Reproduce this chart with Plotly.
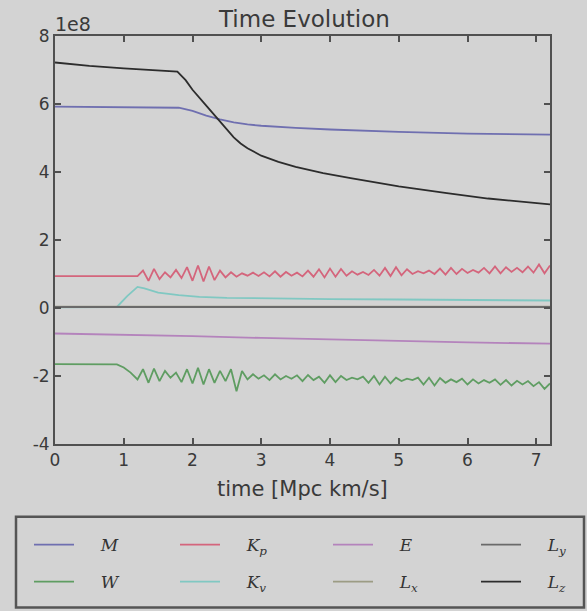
import plotly.graph_objects as go

# ---------------- data (units of 1e8) ----------------
t_osc = [1.20, 1.28, 1.36, 1.44, 1.52, 1.60, 1.68, 1.76, 1.84, 1.92,
         2.00, 2.08, 2.16, 2.24, 2.32, 2.40, 2.48, 2.56, 2.64, 2.72,
         2.80, 2.88, 2.96, 3.04, 3.12, 3.20, 3.28, 3.36, 3.44, 3.52,
         3.60, 3.68, 3.76, 3.84, 3.92, 4.00, 4.08, 4.16, 4.24, 4.32,
         4.40, 4.48, 4.56, 4.64, 4.72, 4.80, 4.88, 4.96, 5.04, 5.12,
         5.20, 5.28, 5.36, 5.44, 5.52, 5.60, 5.68, 5.76, 5.84, 5.92,
         6.00, 6.08, 6.16, 6.24, 6.32, 6.40, 6.48, 6.56, 6.64, 6.72,
         6.80, 6.88, 6.96, 7.04, 7.12, 7.20]

t_M = [0.0, 1.0, 1.8, 2.0, 2.2, 2.4, 2.6, 2.8, 3.0, 3.5, 4.0, 5.0, 6.0, 7.2]
M = [5.92, 5.91, 5.89, 5.80, 5.66, 5.55, 5.46, 5.40, 5.36, 5.30, 5.25, 5.18, 5.13, 5.10]

t_Lz = [0.0, 0.5, 1.0, 1.5, 1.78, 1.9, 2.0, 2.2, 2.4, 2.6, 2.7, 2.8, 3.0, 3.25,
        3.5, 3.9, 4.3, 5.0, 5.7, 6.3, 7.2]
L_z = [7.22, 7.12, 7.05, 6.98, 6.95, 6.70, 6.42, 5.95, 5.50, 5.02, 4.84, 4.70,
       4.48, 4.30, 4.15, 3.97, 3.82, 3.58, 3.38, 3.22, 3.05]

t_Kp = [0.0] + t_osc
K_p = [0.94,
       0.94, 1.10, 0.80, 1.15, 0.85, 1.05, 0.90, 1.12, 0.88, 1.20,
       0.80, 1.25, 0.78, 1.22, 0.82, 1.10, 0.90, 1.05, 0.92, 1.02,
       0.95, 1.04, 0.94, 1.05, 0.93, 1.08, 0.92, 1.06, 0.95, 1.04,
       0.93, 1.10, 0.92, 1.14, 0.90, 1.16, 0.92, 1.15, 0.95, 1.08,
       0.98, 1.06, 0.97, 1.12, 0.95, 1.18, 0.94, 1.20, 0.96, 1.14,
       1.00, 1.08, 1.02, 1.10, 1.00, 1.16, 0.98, 1.18, 1.00, 1.15,
       1.03, 1.12, 1.04, 1.18, 1.02, 1.22, 1.02, 1.20, 1.06, 1.18,
       1.05, 1.22, 1.04, 1.28, 1.02, 1.25]

t_W = [0.0, 0.9, 1.0, 1.1] + t_osc
W = [-1.65, -1.66, -1.75, -1.90,
     -2.10, -1.80, -2.20, -1.78, -2.15, -1.85, -2.05, -1.90, -2.18, -1.80,
     -2.22, -1.76, -2.25, -1.80, -2.20, -1.85, -2.15, -1.80, -2.45, -1.85,
     -2.10, -1.95, -2.08, -1.98, -2.12, -1.95, -2.10, -2.00, -2.08, -1.98,
     -2.15, -1.97, -2.12, -2.02, -2.20, -1.98, -2.18, -2.00, -2.12, -2.05,
     -2.10, -2.02, -2.20, -2.00, -2.25, -2.02, -2.22, -2.05, -2.15, -2.08,
     -2.12, -2.05, -2.25, -2.05, -2.28, -2.06, -2.20, -2.10, -2.18, -2.08,
     -2.25, -2.10, -2.22, -2.12, -2.20, -2.10, -2.26, -2.12, -2.28, -2.14,
     -2.25, -2.15, -2.30, -2.18, -2.38, -2.22]

t_Kv = [0.0, 0.9, 1.05, 1.2, 1.3, 1.5, 1.8, 2.1, 2.5, 3.0, 3.5, 4.0, 5.0, 6.0, 7.2]
K_v = [0.02, 0.03, 0.35, 0.62, 0.58, 0.45, 0.38, 0.33, 0.30, 0.28, 0.27, 0.26, 0.25, 0.24, 0.22]

t_E = [0.0, 1.0, 2.0, 3.0, 4.0, 5.0, 6.0, 7.2]
E = [-0.75, -0.78, -0.83, -0.88, -0.93, -0.97, -1.01, -1.05]

t_L = [0.0, 7.2]
L_x = [0.04, 0.04]
L_y = [0.03, 0.03]

y_ticks = [-4, -2, 0, 2, 4, 6, 8]
x_ticks = [0, 1, 2, 3, 4, 5, 6, 7]

# ---------------- styling ----------------
BG = "#d3d3d3"
AX = "#505050"
TXT = "#3a3a3a"
pad = "\u00a0" * 4

W_PX, H_PX = 587, 611
L, R, T, B = 55, 37, 36, 166
pw, ph = W_PX - L - R, H_PX - T - B


def px(x):
    return (x - L) / pw


def py(y):
    return (H_PX - B - y) / ph


def lab(sym, sub=None):
    s = pad + "<i>" + sym + "</i>"
    if sub:
        s += "<sub><i>" + sub + "</i></sub>"
    return s


col_x = [29, 175, 328, 476]
row_y = [545, 582]

series = [
    # (t, y, name, color, column, row)
    (t_M, M, lab("M"), "#6f6fb0", 0, 0),
    (t_W, W, lab("W"), "#5f9d62", 0, 1),
    (t_Kp, K_p, lab("K", "p"), "#d4657c", 1, 0),
    (t_Kv, K_v, lab("K", "v"), "#80c8c2", 1, 1),
    (t_E, E, lab("E"), "#b483bc", 2, 0),
    (t_L, L_x, lab("L", "x"), "#9c9c84", 2, 1),
    (t_L, L_y, lab("L", "y"), "#6a6a6a", 3, 0),
    (t_Lz, L_z, lab("L", "z"), "#2c2c2c", 3, 1),
]

fig = go.Figure()
legends = {}
for i, (t, y, name, col, c, r) in enumerate(series):
    key = "legend" if i == 0 else "legend%d" % (i + 1)
    fig.add_trace(go.Scatter(x=t, y=y, mode="lines", name=name, legend=key,
                             line=dict(color=col, width=1.8)))
    legends[key] = dict(x=px(col_x[c]), y=py(row_y[r]), xanchor="left",
                        yanchor="middle", orientation="h",
                        bgcolor="rgba(0,0,0,0)", borderwidth=0,
                        font=dict(family="DejaVu Serif", size=17, color="#333"),
                        itemwidth=40)

fig.update_layout(
    width=W_PX, height=H_PX,
    margin=dict(l=L, r=R, t=T, b=B, pad=0),
    paper_bgcolor=BG, plot_bgcolor=BG,
    font=dict(family="DejaVu Sans", size=17, color=TXT),
    showlegend=True,
    **legends,
    xaxis=dict(range=[0, 7.2], tickvals=x_ticks, ticktext=[str(v) for v in x_ticks],
               ticks="inside", ticklen=6, tickwidth=1.5, tickcolor=AX,
               showline=True, linecolor=AX, linewidth=2, mirror="allticks",
               showgrid=False, zeroline=False, tickfont=dict(size=17)),
    yaxis=dict(range=[-4, 8], tickvals=y_ticks, ticktext=[str(v) for v in y_ticks],
               ticks="inside", ticklen=6, tickwidth=1.5, tickcolor=AX,
               showline=True, linecolor=AX, linewidth=2, mirror="allticks",
               showgrid=False, zeroline=False, tickfont=dict(size=17)),
    annotations=[
        dict(text="Time Evolution", x=px(304), y=py(19), xref="paper", yref="paper",
             showarrow=False, xanchor="center", yanchor="middle",
             font=dict(size=23, color=TXT)),
        dict(text="1e8", x=px(53), y=py(24), xref="paper", yref="paper",
             showarrow=False, xanchor="left", yanchor="middle",
             font=dict(size=19, color=TXT)),
        dict(text="time [Mpc km/s]", x=px(302), y=py(490), xref="paper", yref="paper",
             showarrow=False, xanchor="center", yanchor="middle",
             font=dict(size=21, color=TXT)),
    ],
    shapes=[
        dict(type="rect", xref="paper", yref="paper",
             x0=px(16), x1=px(584), y0=py(609), y1=py(518),
             line=dict(color="#555555", width=2.5), fillcolor="rgba(0,0,0,0)",
             layer="above"),
    ],
)

fig.write_html("out.html")
